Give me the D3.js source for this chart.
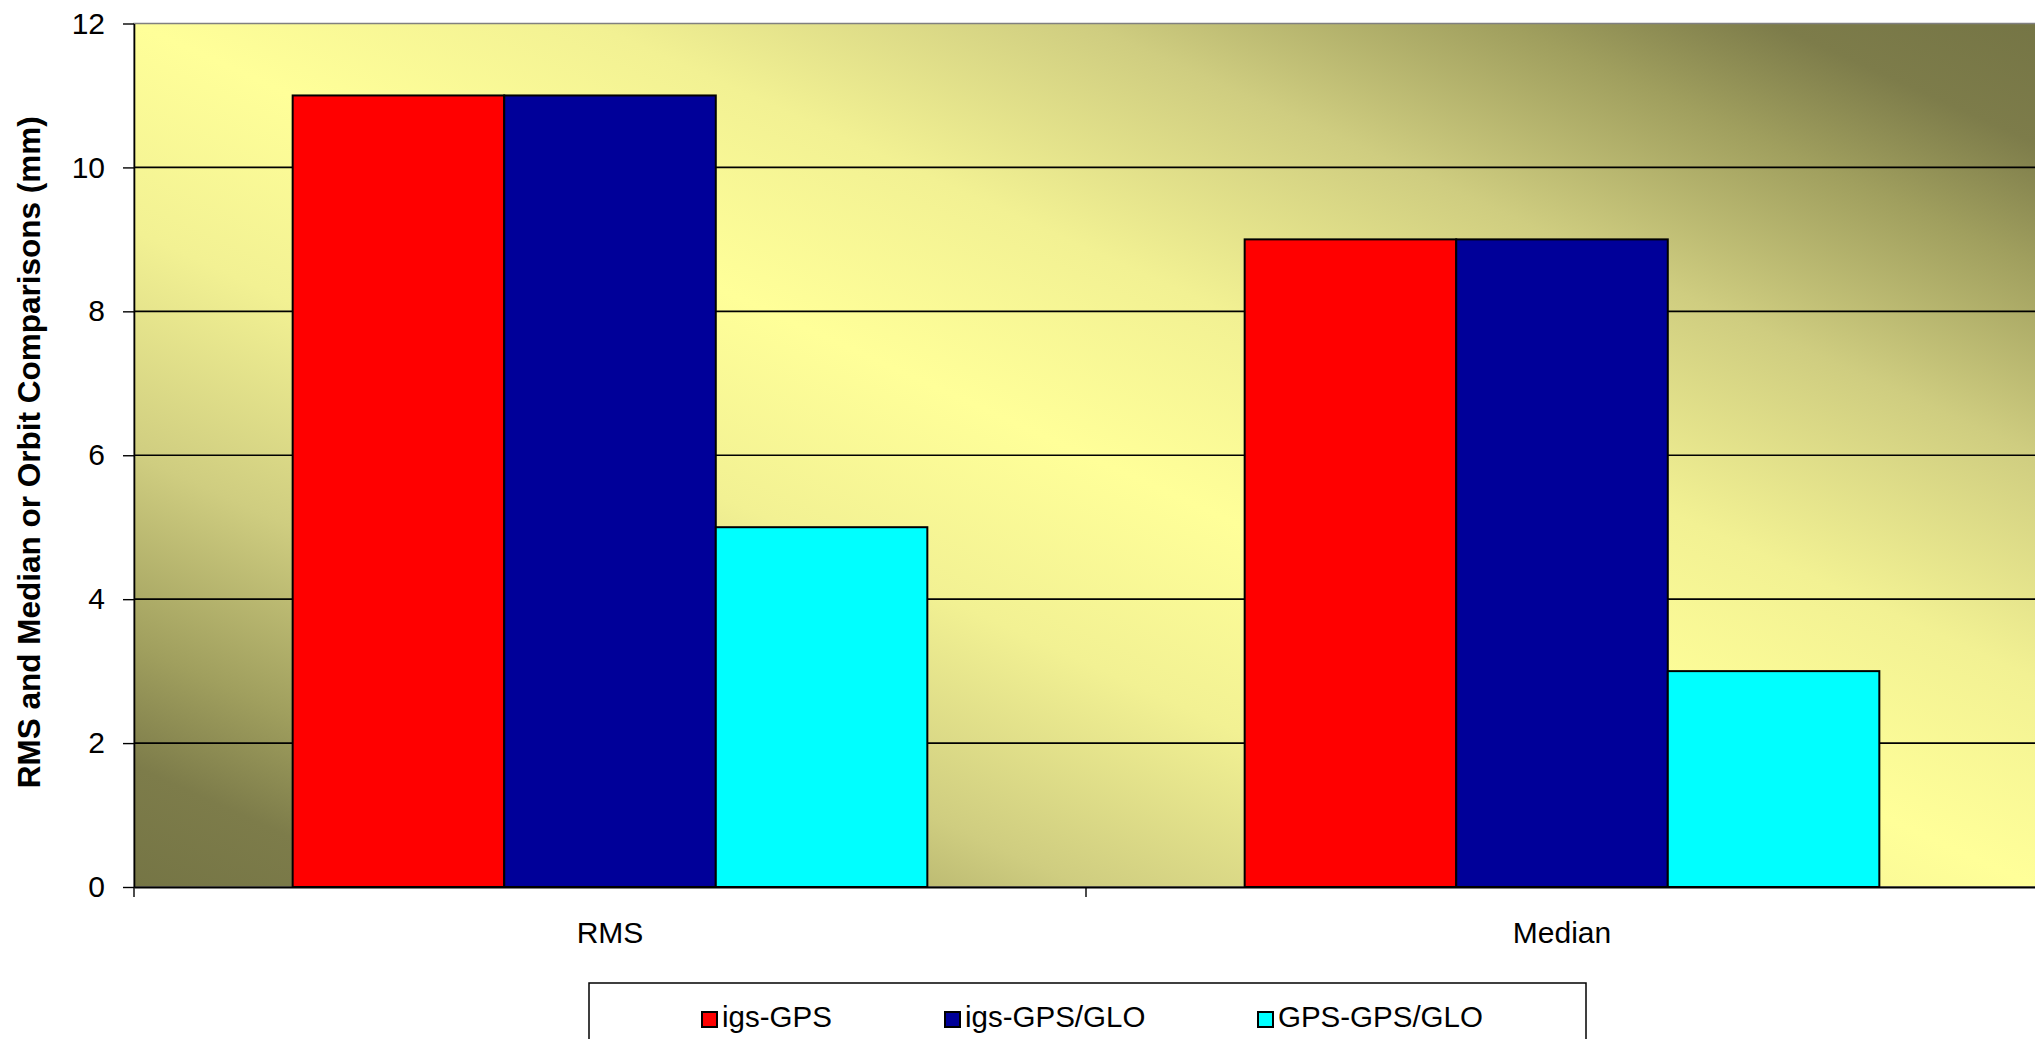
<!DOCTYPE html>
<html>
<head>
<meta charset="utf-8">
<script src="https://cdn.jsdelivr.net/npm/d3@7"></script>
<style>
  html, body { margin: 0; padding: 0; background: #fff; }
  svg { display: block; }
  text { font-family: "Liberation Sans", Arial, sans-serif; fill: #000; }
</style>
</head>
<body>
<svg id="chart" width="2035" height="1039"></svg>
<script>
// Comparison categories and series
const categories = ["RMS", "Median"];
const seriesNames = ["igs-GPS", "igs-GPS/GLO", "GPS-GPS/GLO"];
const seriesColors = ["#ff0000", "#000099", "#00ffff"];
const igsGps = [11, 9];
const igsGpsGlo = [11, 9];
const gpsGpsGlo = [5, 3];
const yTicks = [0, 2, 4, 6, 8, 10, 12];
const yTitle = "RMS and Median or Orbit Comparisons (mm)";

const seriesValues = [igsGps, igsGpsGlo, gpsGpsGlo];
const rows = categories.map((c, i) => ({
  category: c,
  values: seriesNames.map((s, j) => ({ series: s, value: seriesValues[j][i], color: seriesColors[j] }))
}));

const svg = d3.select("#chart");
const plot = { left: 134, right: 2038, top: 23.5, bottom: 887 };

const x0 = d3.scaleBand().domain(categories).range([plot.left, plot.right]).paddingInner(0).paddingOuter(0);
const bw = x0.bandwidth();
const x1 = d3.scaleBand().domain(seriesNames).range([bw / 6, bw * 5 / 6]).padding(0);
const y = d3.scaleLinear().domain([0, 12]).range([plot.bottom, plot.top]);

// Diagonal two-tone fill of the plot area
const defs = svg.append("defs");
const grad = defs.append("linearGradient")
  .attr("id", "plotFill")
  .attr("gradientUnits", "objectBoundingBox")
  .attr("x1", 1).attr("y1", 0).attr("x2", 0).attr("y2", 1);
[
  [0, "#757545"], [0.07, "#7d7c4a"], [0.14, "#a09f5e"], [0.25, "#cfcd80"],
  [0.38, "#f2f193"], [0.5, "#ffff99"], [0.62, "#f2f193"], [0.75, "#cfcd80"],
  [0.86, "#a09f5e"], [0.93, "#7d7c4a"], [1, "#757545"]
].forEach(([o, c]) => grad.append("stop").attr("offset", o).attr("stop-color", c));

svg.append("rect")
  .attr("x", plot.left).attr("y", plot.top)
  .attr("width", plot.right - plot.left).attr("height", plot.bottom - plot.top)
  .attr("fill", "url(#plotFill)")
  .attr("stroke", "#808080").attr("stroke-width", 1.5);

// Horizontal gridlines
svg.append("g").selectAll("line")
  .data(yTicks.filter(t => t > 0 && t < 12))
  .join("line")
  .attr("x1", plot.left).attr("x2", plot.right)
  .attr("y1", d => y(d)).attr("y2", d => y(d))
  .attr("stroke", "#000").attr("stroke-width", 1.6);

// Bars
const groups = svg.append("g").selectAll("g")
  .data(rows)
  .join("g")
  .attr("transform", d => `translate(${x0(d.category)},0)`);
groups.selectAll("rect")
  .data(d => d.values)
  .join("rect")
  .attr("x", d => x1(d.series))
  .attr("width", x1.bandwidth())
  .attr("y", d => y(d.value))
  .attr("height", d => y(0) - y(d.value))
  .attr("fill", d => d.color)
  .attr("stroke", "#000").attr("stroke-width", 2);

// Y axis
const yAxis = svg.append("g")
  .attr("transform", `translate(${plot.left},0)`)
  .call(d3.axisLeft(y).tickValues(yTicks).tickSize(11).tickPadding(18).tickSizeOuter(0));
yAxis.select(".domain").attr("stroke", "#000").attr("stroke-width", 1.6);
yAxis.selectAll(".tick line").attr("stroke", "#000").attr("stroke-width", 1.4);
yAxis.selectAll(".tick text").style("font-size", "30px").attr("fill", "#000");

// X axis with category labels centred in each band
const xAxis = svg.append("g")
  .attr("transform", `translate(0,${plot.bottom})`)
  .call(d3.axisBottom(x0).tickSize(0).tickPadding(35).tickSizeOuter(0));
xAxis.select(".domain").attr("stroke", "#000").attr("stroke-width", 2);
xAxis.selectAll(".tick text").style("font-size", "30px").attr("fill", "#000");

// Category boundary ticks
const bounds = categories.map(c => x0(c)).concat([x0(categories[categories.length - 1]) + bw]);
svg.append("g").selectAll("line")
  .data(bounds)
  .join("line")
  .attr("x1", d => d).attr("x2", d => d)
  .attr("y1", plot.bottom).attr("y2", plot.bottom + 10)
  .attr("stroke", "#000").attr("stroke-width", 1.4);

// Y axis title
svg.append("text")
  .attr("transform", `translate(40,${(plot.top + plot.bottom) / 2 - 3}) rotate(-90)`)
  .attr("text-anchor", "middle")
  .style("font-size", "31.5px")
  .style("font-weight", "bold")
  .text(yTitle);

// Legend
const legend = svg.append("g");
legend.append("rect")
  .attr("x", 589).attr("y", 983)
  .attr("width", 997).attr("height", 90)
  .attr("fill", "#fff").attr("stroke", "#000").attr("stroke-width", 1.5);
const legendX = [702, 945, 1258];
const items = legend.selectAll("g.item")
  .data(seriesNames)
  .join("g")
  .attr("class", "item")
  .attr("transform", (d, i) => `translate(${legendX[i]},1012)`);
items.append("rect")
  .attr("width", 15).attr("height", 15)
  .attr("fill", (d, i) => seriesColors[i])
  .attr("stroke", "#000").attr("stroke-width", 2);
items.append("text")
  .attr("x", 20).attr("y", 15)
  .style("font-size", "29.5px")
  .text(d => d);
</script>
</body>
</html>
